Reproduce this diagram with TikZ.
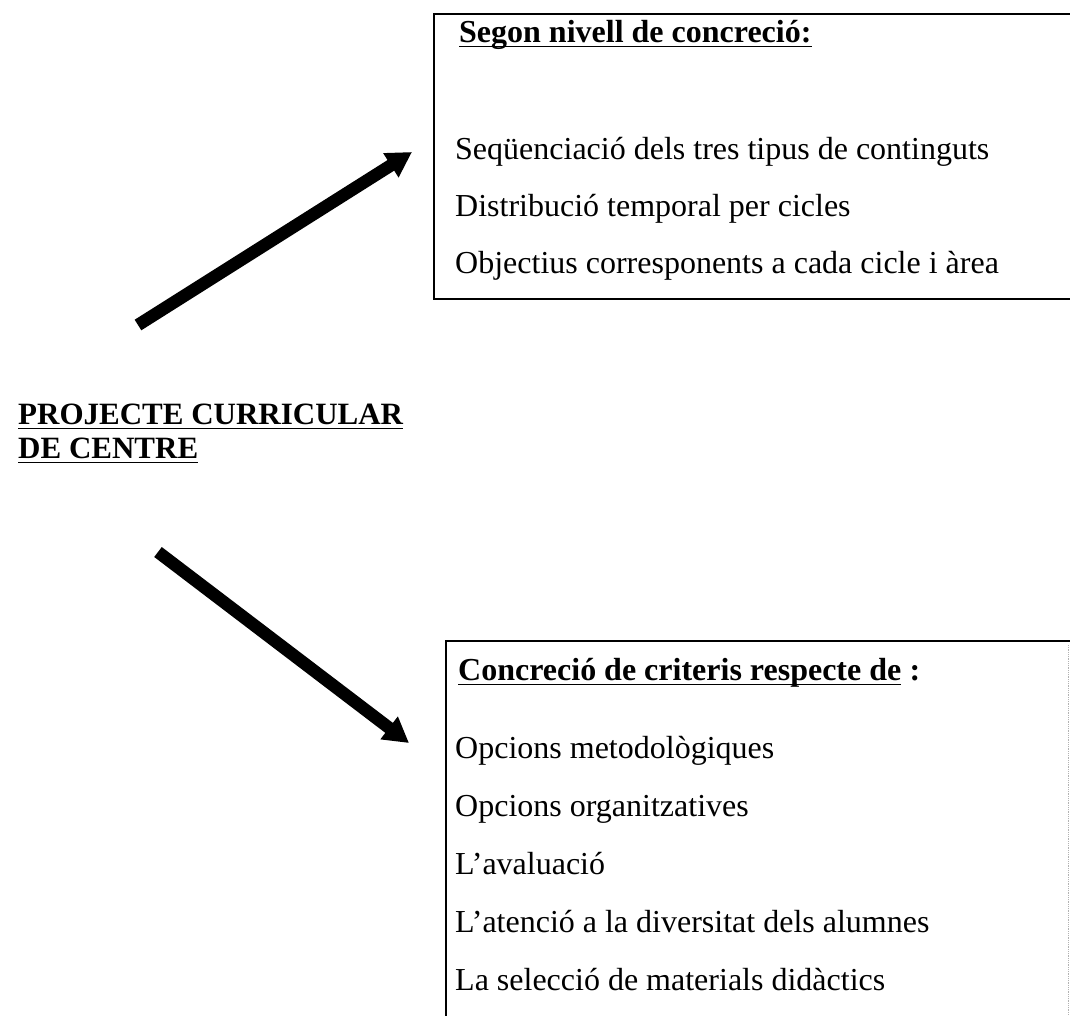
\documentclass[tikz,border=0pt]{standalone}
\usepackage{fontspec}
\setmainfont{Liberation Serif}
\usetikzlibrary{arrows.meta}
\begin{document}
\begin{tikzpicture}[x=1pt,y=-1pt,
  txt/.style={anchor=base west, inner sep=0pt, font=\fontsize{32}{38}\selectfont},
  ttl/.style={anchor=base west, inner sep=0pt, font=\fontsize{31}{36}\selectfont\bfseries},
  bigarrow/.style={line width=12.5pt, -{Triangle[length=25pt,width=27pt]}},
  boxline/.style={line width=2pt},
  ul/.style={line width=1.8pt}]
\useasboundingbox (0,0) rectangle (1070,1015);
\fill[white] (0,0) rectangle (1070,1015);
\begin{scope}
\clip (0,0) rectangle (1070,1015);
\draw[boxline] (1090,14) -- (434,14) -- (434,299) -- (1090,299);
\draw[boxline] (1090,641) -- (446,641) -- (446,1040);
\draw[line width=0.8pt, gray!60, densely dotted] (1068,645) -- (1068,1015);
\end{scope}
\node[ttl, font=\fontsize{32}{38}\selectfont\bfseries] (t1) at (459,42) {Segon nivell de concreció:};
\node[txt] (a1) at (455,159) {Seqüenciació dels tres tipus de continguts};
\node[txt] (a2) at (455,216) {Distribució temporal per cicles};
\node[txt] (a3) at (455,273) {Objectius corresponents a cada cicle i àrea};
\node[ttl] (m1) at (18,424) {PROJECTE CURRICULAR};
\node[ttl] (m2) at (18,458) {DE CENTRE};
\node[ttl, font=\fontsize{32}{38}\selectfont\bfseries] (t2) at (458,680) {Concreció de criteris respecte de};
\node[ttl, font=\fontsize{32}{38}\selectfont\bfseries] (t2c) at (t2.base east) {\ :};
\node[txt] (b1) at (455,758) {Opcions metodològiques};
\node[txt] (b2) at (455,816) {Opcions organitzatives};
\node[txt] (b3) at (455,874) {L’avaluació};
\node[txt] (b4) at (455,932) {L’atenció a la diversitat dels alumnes};
\node[txt] (b5) at (455,990) {La selecció de materials didàctics};
\foreach \n in {t1,m1,m2,t2}
  \draw[ul] ([yshift=-4.5pt]\n.base west) -- ([yshift=-4.5pt]\n.base east);
\coordinate (s1) at (138,325);
\coordinate (e1) at (412,152);
\coordinate (s2) at (158,552);
\coordinate (e2) at (409,743);
\draw[bigarrow] (s1) -- (e1);
\draw[bigarrow] (s2) -- (e2);
\end{tikzpicture}
\end{document}
